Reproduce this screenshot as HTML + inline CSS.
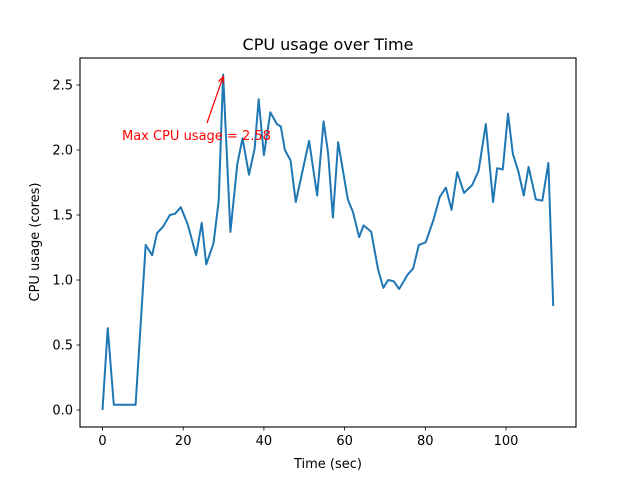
<!DOCTYPE html>
<html><head><meta charset="utf-8"><style>
body{margin:0;background:#fff}
svg{display:block;font-family:"DejaVu Sans","Liberation Sans",sans-serif}
</style></head><body>
<svg id="chart" width="640" height="480" viewBox="0 0 640 480">
<rect width="640" height="480" fill="#fff"/>
<g id="ticks"></g>
<polyline id="line" fill="none" stroke="#1f77b4" stroke-width="2" stroke-linejoin="round"/>
<rect x="80" y="58" width="496" height="369" fill="none" stroke="#000" stroke-width="1.1"/>
<text x="328" y="50" text-anchor="middle" font-size="16">CPU usage over Time</text>
<text x="328" y="468" text-anchor="middle" font-size="13">Time (sec)</text>
<text transform="translate(39,242) rotate(-90)" text-anchor="middle" font-size="13">CPU usage (cores)</text>
<text x="122" y="140" font-size="13" fill="red">Max CPU usage = 2.58</text>
<line id="arrow" stroke="red" stroke-width="1.2"/>
<polyline id="arrowhead" fill="none" stroke="red" stroke-width="1.2"/>
</svg>
<script>
const times=[0,1.3,2.8,8.2,10.7,12.3,13.5,15.0,16.7,18.0,19.4,21.1,23.2,24.6,25.7,27.5,28.8,29.9,31.7,33.4,34.7,36.3,37.7,38.7,40.0,41.6,43.2,44.2,45.2,46.6,47.9,51.2,53.2,54.8,55.9,57.1,58.4,60.8,62.1,63.6,64.7,66.6,68.3,69.6,70.8,72.2,73.5,75.6,77.0,78.4,80.1,82.0,83.6,85.1,86.5,87.9,89.6,91.6,93.2,95.0,96.8,97.8,99.2,100.5,101.7,103.1,104.4,105.6,107.4,109.0,110.5,111.7];
const usage=[0,0.63,0.04,0.04,1.27,1.19,1.36,1.41,1.50,1.51,1.56,1.43,1.19,1.44,1.12,1.28,1.61,2.58,1.37,1.89,2.09,1.81,2.01,2.39,1.96,2.29,2.20,2.18,2.00,1.92,1.60,2.07,1.65,2.22,1.98,1.48,2.06,1.62,1.52,1.33,1.42,1.37,1.08,0.94,1.00,0.99,0.93,1.04,1.09,1.27,1.29,1.46,1.64,1.71,1.54,1.83,1.67,1.73,1.84,2.20,1.60,1.86,1.85,2.28,1.97,1.83,1.65,1.87,1.62,1.61,1.90,0.80];
const xTicks=[0,20,40,60,80,100];
const yTicks=[0.0,0.5,1.0,1.5,2.0,2.5];
const maxT=29.9, maxV=2.58;
const xs=t=>102.5+t*4.035;
const ys=v=>410-v*130;
const NS="http://www.w3.org/2000/svg";
const g=document.getElementById('ticks');
function mk(tag,attrs){const e=document.createElementNS(NS,tag);for(const k in attrs)e.setAttribute(k,attrs[k]);return e;}
xTicks.forEach(t=>{
  const l=mk('line',{x1:xs(t),x2:xs(t),y1:427,y2:430.5,stroke:'#000','stroke-width':0.8});
  
  
  g.appendChild(l);
  const tx=mk('text',{x:xs(t),y:445,'text-anchor':'middle','font-size':13});
  
  
  tx.textContent=t;g.appendChild(tx);
});
yTicks.forEach(v=>{
  const l=mk('line',{x1:76.5,x2:80,y1:ys(v),y2:ys(v),stroke:'#000','stroke-width':0.8});
  
  
  g.appendChild(l);
  const tx=mk('text',{x:73,y:ys(v)+4.5,'text-anchor':'end','font-size':13});
  
  
  tx.textContent=v.toFixed(1);g.appendChild(tx);
});
document.getElementById('line').setAttribute('points',times.map((t,i)=>xs(t)+','+ys(usage[i])).join(' '));
const ax=xs(maxT), ay=ys(maxV)+2, sx=207, sy=123;
const a=document.getElementById('arrow');
a.setAttribute('x1',sx);a.setAttribute('y1',sy);a.setAttribute('x2',ax);a.setAttribute('y2',ay);
const ang=Math.atan2(ay-sy,ax-sx), L=7;
const p1=[ax-L*Math.cos(ang-0.4),ay-L*Math.sin(ang-0.4)], p2=[ax-L*Math.cos(ang+0.4),ay-L*Math.sin(ang+0.4)];
document.getElementById('arrowhead').setAttribute('points',p1.join(',')+' '+ax+','+ay+' '+p2.join(','));
</script>
</body></html>
